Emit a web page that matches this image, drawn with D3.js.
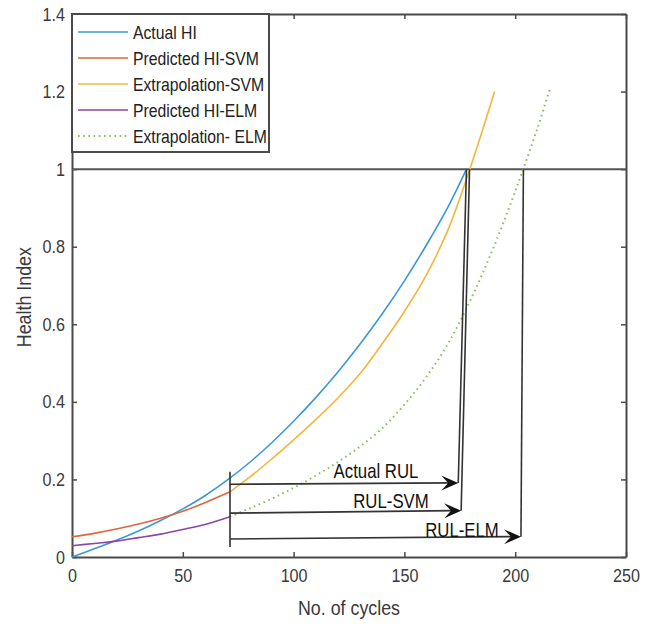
<!DOCTYPE html>
<html>
<head>
<meta charset="utf-8">
<script src="https://cdn.jsdelivr.net/npm/d3@7"></script>
<style>
  html, body { margin: 0; padding: 0; background: #fff; }
  svg { display: block; }
  text { font-family: "Liberation Sans", Arial, sans-serif; }
</style>
</head>
<body>
<svg id="chart" width="650" height="625"></svg>
<script>
// ---- data -------------------------------------------------------------
const actualCycles = [0, 10, 20, 30, 40, 50, 60, 70, 80, 90, 100, 110, 120, 130, 140, 150, 160, 170, 178];
const actualHI     = [0, 0.021, 0.043, 0.067, 0.094, 0.124, 0.158, 0.198, 0.243, 0.294, 0.350, 0.411, 0.477, 0.549, 0.627, 0.712, 0.805, 0.906, 1.0];

const svmCycles = [0, 10, 20, 30, 40, 50, 60, 71.3];
const svmHI     = [0.052, 0.061, 0.072, 0.085, 0.100, 0.118, 0.140, 0.168];

const svmExtCycles = [71.3, 80, 90, 100, 110, 120, 130, 140, 150, 160, 170, 180, 190.7];
const svmExtHI     = [0.168, 0.205, 0.252, 0.302, 0.354, 0.410, 0.473, 0.550, 0.633, 0.728, 0.848, 1.008, 1.200];

const elmCycles = [0, 10, 20, 30, 40, 50, 60, 71.3];
const elmHI     = [0.029, 0.035, 0.041, 0.050, 0.059, 0.071, 0.084, 0.104];

const elmExtCycles = [71.3, 80, 90, 100, 110, 120, 130, 140, 150, 160, 170, 180, 190, 200, 210, 215.8];
const elmExtHI     = [0.104, 0.125, 0.150, 0.178, 0.210, 0.245, 0.285, 0.332, 0.393, 0.465, 0.553, 0.665, 0.795, 0.943, 1.105, 1.210];

const failureThreshold = 1;

// RUL arrows: start cycle/HI, end cycle/HI, and where each drop line meets the threshold
const rulNames   = ["Actual RUL", "RUL-SVM", "RUL-ELM"];
const rulStartX  = [71.3, 71.3, 71.3];
const rulStartY  = [0.1875, 0.113, 0.0465];
const rulEndX    = [174.3, 175.6, 202.6];
const rulEndY    = [0.191, 0.1195, 0.0525];
const rulTopX    = [178, 179.4, 203.7];
const predictionBar = [0.026, 0.22]; // HI span of the marker at the prediction start

const xTicks = [0, 50, 100, 150, 200, 250];
const yTicks = [0, 0.2, 0.4, 0.6, 0.8, 1, 1.2, 1.4];

const seriesNames  = ["Actual HI", "Predicted HI-SVM", "Extrapolation-SVM", "Predicted HI-ELM", "Extrapolation- ELM"];
const seriesColors = ["#3b97d8", "#e0643c", "#f2b63a", "#8c46a3", "#8fbd5e"];

// ---- layout -----------------------------------------------------------
const svg = d3.select("#chart");
const margin = { left: 72, right: 24, top: 14, bottom: 68 };
const W = 650, H = 625;
const x = d3.scaleLinear().domain([0, 250]).range([margin.left, W - margin.right]);
const y = d3.scaleLinear().domain([0, 1.4]).range([H - margin.bottom, margin.top]);

const squeeze = 0.85; // condensed look of the figure's lettering

svg.append("rect").attr("width", W).attr("height", H).attr("fill", "#fff");

const axisColor = "#4a4a4a";
const tickColor = "#3a3a3a";

// text placed at (px, py) and horizontally condensed
function label(parent, px, py, str, size, anchor, fill, sx) {
  return parent.append("text")
    .attr("transform", `translate(${px},${py}) scale(${sx || squeeze},1)`)
    .attr("text-anchor", anchor).attr("fill", fill)
    .style("font-size", size + "px")
    .text(str);
}

// ---- axes (box with mirrored inward ticks) ------------------------------
const gx = svg.append("g").attr("transform", `translate(0,${y(0)})`)
  .call(d3.axisBottom(x).tickValues(xTicks).tickSizeInner(-5).tickSizeOuter(0).tickPadding(12).tickFormat(d3.format("d")));
const gy = svg.append("g").attr("transform", `translate(${x(0)},0)`)
  .call(d3.axisLeft(y).tickValues(yTicks).tickSizeInner(-5).tickSizeOuter(0).tickPadding(7).tickFormat(d => d3.format("~g")(d)));
const gxTop = svg.append("g").attr("transform", `translate(0,${y(1.4)})`)
  .call(d3.axisTop(x).tickValues(xTicks).tickSizeInner(-5).tickSizeOuter(0).tickFormat(""));
const gyRight = svg.append("g").attr("transform", `translate(${x(250)},0)`)
  .call(d3.axisRight(y).tickValues(yTicks).tickSizeInner(-5).tickSizeOuter(0).tickFormat(""));

[gx, gy, gxTop, gyRight].forEach(g => {
  g.select(".domain").attr("stroke", axisColor).attr("stroke-width", 2);
  g.selectAll(".tick line").attr("stroke", axisColor).attr("stroke-width", 1.5);
  g.selectAll(".tick text").attr("fill", tickColor).style("font-size", "19px");
});
// condense tick labels about their own anchor
gx.selectAll(".tick text").attr("transform", `scale(${squeeze},1)`);
gy.selectAll(".tick text")
  .attr("x", -7 / squeeze)
  .attr("transform", `scale(${squeeze},1)`);

label(svg, (x(0) + x(250)) / 2, 615, "No. of cycles", 21, "middle", tickColor);
svg.append("g").attr("transform", `translate(31,${y(0.67)}) rotate(-90)`)
  .call(g => label(g, 0, 0, "Health Index", 21, "middle", tickColor));

// ---- curves -----------------------------------------------------------
const line = d3.line().x(d => x(d[0])).y(d => y(d[1])).curve(d3.curveCatmullRom.alpha(0.5));
const plotLayer = svg.append("g");

function drawSeries(xs, ys, color, dotted) {
  const p = plotLayer.append("path")
    .datum(d3.zip(xs, ys))
    .attr("fill", "none")
    .attr("stroke", color)
    .attr("stroke-width", dotted ? 2 : 1.6)
    .attr("d", line);
  if (dotted) p.attr("stroke-dasharray", "1.6 3.6");
}

// failure threshold
plotLayer.append("line")
  .attr("x1", x(0)).attr("x2", x(250))
  .attr("y1", y(failureThreshold)).attr("y2", y(failureThreshold))
  .attr("stroke", "#555").attr("stroke-width", 2);

drawSeries(elmExtCycles, elmExtHI, seriesColors[4], true);
drawSeries(svmExtCycles, svmExtHI, seriesColors[2], false);
drawSeries(actualCycles, actualHI, seriesColors[0], false);
drawSeries(svmCycles, svmHI, seriesColors[1], false);
drawSeries(elmCycles, elmHI, seriesColors[3], false);

// ---- RUL annotation ----------------------------------------------------
const ann = svg.append("g");
ann.append("line")
  .attr("x1", x(rulStartX[0])).attr("x2", x(rulStartX[0]))
  .attr("y1", y(predictionBar[0])).attr("y2", y(predictionBar[1]))
  .attr("stroke", "#333").attr("stroke-width", 1.6);

function arrowHead(x2, y2, x1, y1) {
  const ang = Math.atan2(y2 - y1, x2 - x1);
  const L = 17, hw = 7.5, notch = 10;
  const pts = [[0, 0], [-L, -hw], [-notch, 0], [-L, hw]].map(([a, b]) => [
    x2 + a * Math.cos(ang) - b * Math.sin(ang),
    y2 + a * Math.sin(ang) + b * Math.cos(ang)
  ]);
  return "M" + pts.map(p => p.join(",")).join("L") + "Z";
}

const labelX = [376, 391, 462];
const labelY = [478, 508, 537];

rulNames.forEach((name, i) => {
  const sx = x(rulStartX[i]), sy = y(rulStartY[i]);
  const ex = x(rulEndX[i]), ey = y(rulEndY[i]);
  // drop line from the threshold crossing to the arrow tip
  ann.append("line")
    .attr("x1", x(rulTopX[i])).attr("y1", y(failureThreshold))
    .attr("x2", ex).attr("y2", ey)
    .attr("stroke", "#333").attr("stroke-width", 1.6);
  ann.append("line")
    .attr("x1", sx).attr("y1", sy).attr("x2", ex - 8).attr("y2", ey)
    .attr("stroke", "#333").attr("stroke-width", 1.6);
  ann.append("path").attr("d", arrowHead(ex, ey, sx, sy)).attr("fill", "#111");
  label(ann, labelX[i], labelY[i], name, 20, "middle", "#111", 0.84);
});

// ---- legend ------------------------------------------------------------
const lg = svg.append("g");
lg.append("rect")
  .attr("x", x(0)).attr("y", y(1.4)).attr("width", 197).attr("height", 138)
  .attr("fill", "#fff").attr("stroke", axisColor).attr("stroke-width", 2);
seriesNames.forEach((name, i) => {
  const ly = 32 + i * 26;
  const l = lg.append("line")
    .attr("x1", 78).attr("x2", 128).attr("y1", ly).attr("y2", ly)
    .attr("stroke", seriesColors[i]).attr("stroke-width", i === 4 ? 2 : 1.6);
  if (i === 4) l.attr("stroke-dasharray", "1.6 3.6");
  label(lg, 133, ly + 6.5, name, 17.5, "start", "#222", 0.9);
});
</script>
</body>
</html>
